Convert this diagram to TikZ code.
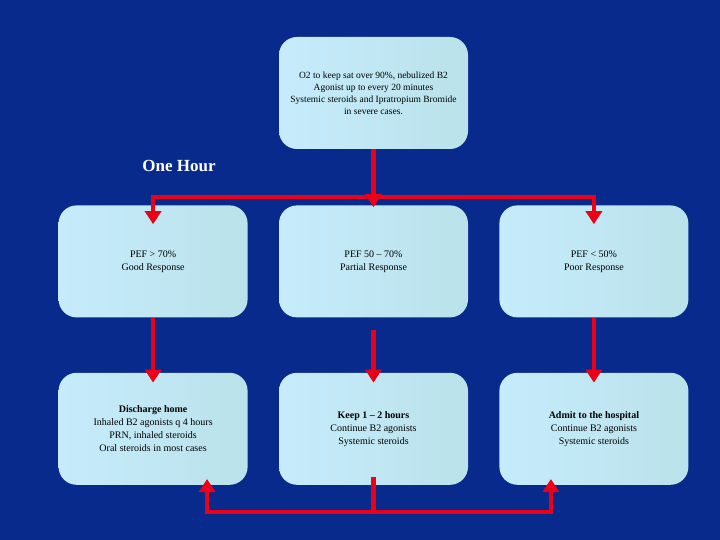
\documentclass[tikz,border=0pt]{standalone}
\usepackage{fontspec}
\setmainfont{Liberation Serif}
\usetikzlibrary{arrows.meta,positioning,calc}
\definecolor{slide}{RGB}{8,42,140}
\definecolor{boxleft}{RGB}{198,236,252}
\definecolor{boxright}{RGB}{186,226,234}
\definecolor{flowred}{RGB}{236,0,24}

\begin{document}
\begin{tikzpicture}[
    x=1pt, y=-1pt,
    step box/.style={rectangle, rounded corners=18pt, minimum width=189pt, minimum height=112pt,
        align=center, left color=boxleft, right color=boxright, font=\fontsize{10}{13}\selectfont},
    flow/.style={draw=flowred, line width=4.5pt, -{Triangle[width=16pt,length=13pt]}},
    link/.style={draw=flowred, line width=4.5pt}
]
    \fill[slide] (0,0) rectangle (720,540);
    \useasboundingbox (0,0) rectangle (720,540);

    \node[step box, font=\fontsize{9.5}{12}\selectfont] (start) at (373.5,93) {O2 to keep sat over 90\%, nebulized B2\\Agonist up to every 20 minutes\\Systemic steroids and Ipratropium Bromide\\in severe cases.};
    \node[text=white, font=\fontsize{17}{20}\selectfont\bfseries] (hour) at (179,166) {One Hour};

    \node[step box, below=56pt of start] (partial) {PEF 50 -- 70\%\\Partial Response};
    \node[step box, left=31pt of partial] (good) {PEF > 70\%\\Good Response};
    \node[step box, right=31pt of partial] (poor) {PEF < 50\%\\Poor Response};

    \node[step box, below=55pt of good] (home) {\textbf{Discharge home}\\Inhaled B2 agonists q 4 hours\\PRN, inhaled steroids\\Oral steroids in most cases};
    \node[step box, below=55pt of partial] (keep) {\textbf{Keep 1 -- 2 hours}\\Continue B2 agonists\\Systemic steroids};
    \node[step box, below=55pt of poor] (admit) {\textbf{Admit to the hospital}\\Continue B2 agonists\\Systemic steroids};

    % from the first treatment to the three responses
    \coordinate (split) at ($(start.south)+(0,48)$);
    \draw[flow] (start.south) -- ([yshift=-2pt]partial.north);
    \draw[flow] (split) -| ([yshift=-19pt]good.north);
    \draw[flow] (split) -| ([yshift=-19pt]poor.north);

    % response to action
    \draw[flow] (good.south) -- ([yshift=-10pt]home.north);
    \draw[flow] ([yshift=-12pt]partial.south) -- ([yshift=-10pt]keep.north);
    \draw[flow] (poor.south) -- ([yshift=-10pt]admit.north);

    % after the observation period
    \coordinate (join) at ($(keep.south)+(0,27)$);
    \draw[link] ([yshift=8pt]keep.south) -- (join);
    \draw[flow] (join) -| ([xshift=54pt,yshift=6pt]home.south);
    \draw[flow] (join) -| ([xshift=-43pt,yshift=6pt]admit.south);
\end{tikzpicture}
\end{document}
